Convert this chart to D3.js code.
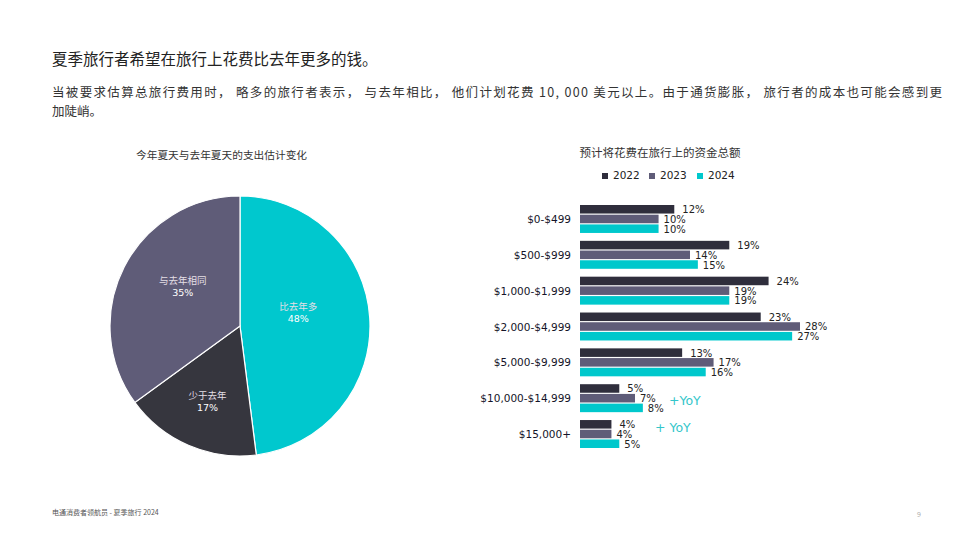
<!DOCTYPE html>
<html><head><meta charset="utf-8">
<script src="https://cdn.jsdelivr.net/npm/d3@7"></script>
<style>
body{margin:0;background:#fff;}
text{font-family:"Noto Sans CJK SC","Noto Sans",sans-serif;}
.num{font-family:"DejaVu Sans",Verdana,sans-serif;}
</style></head>
<body><svg id="c" width="960" height="540"></svg>
<script>
const pieLabels = ["比去年多","少于去年","与去年相同"];
const pieValues = [48,17,35];
const pieColors = ["#00C8CE","#36363E","#5F5C78"];

const categories = ["$0-$499","$500-$999","$1,000-$1,999","$2,000-$4,999","$5,000-$9,999","$10,000-$14,999","$15,000+"];
const years = ["2022","2023","2024"];
const v2022 = [12,19,24,23,13,5,4];
const v2023 = [10,14,19,28,17,7,4];
const v2024 = [10,15,19,27,16,8,5];
const barColors = ["#2F2E3C","#5F5C78","#00C8CC"];

const svg = d3.select("#c");

// Titles
svg.append("text").attr("x",52).attr("y",65).attr("font-size",15.5).attr("fill","#222")
  .text("夏季旅行者希望在旅行上花费比去年更多的钱。");
svg.append("text").attr("x",52).attr("y",97).attr("font-size",12.5).attr("fill","#333")
  .attr("textLength",890).attr("lengthAdjust","spacing")
  .text("当被要求估算总旅行费用时， 略多的旅行者表示， 与去年相比， 他们计划花费 10, 000 美元以上。由于通货膨胀， 旅行者的成本也可能会感到更");
svg.append("text").attr("x",52).attr("y",116).attr("font-size",12.5).attr("fill","#333").text("加陡峭。");

// Pie
const cx=240, cy=326, R=130;
svg.append("text").attr("x",136).attr("y",159).attr("font-size",10.7).attr("fill","#333")
  .text("今年夏天与去年夏天的支出估计变化");
const pie = d3.pie().sort(null).value(d=>d)(pieValues);
const arc = d3.arc().innerRadius(0).outerRadius(R);
const pg = svg.append("g").attr("transform",`translate(${cx},${cy})`);
pg.selectAll("path").data(pie).join("path").attr("d",arc)
  .attr("fill",(d,i)=>pieColors[i]).attr("stroke","#fff").attr("stroke-width",1.2);
const labR=[60,82,70], labShift=[-0.18,0,0.14];
pie.forEach((d,i)=>{
  const a=(d.startAngle+d.endAngle)/2+labShift[i];
  const x=labR[i]*Math.sin(a), y=-labR[i]*Math.cos(a);
  const t=pg.append("text").attr("text-anchor","middle").attr("font-size",9.5).attr("fill","#e4dfe6");
  t.append("tspan").attr("x",x).attr("y",y-2).text(pieLabels[i]);
  t.append("tspan").attr("x",x).attr("y",y+10).attr("class","num").attr("fill","#fff").text(pieValues[i]+"%");
});

// Bar chart
svg.append("text").attr("x",660).attr("y",157).attr("text-anchor","middle").attr("font-size",11.5).attr("fill","#333")
  .text("预计将花费在旅行上的资金总额");
// legend
const lg = svg.append("g");
years.forEach((y,i)=>{
  const lx=[602,649,697][i];
  lg.append("rect").attr("x",lx).attr("y",173).attr("width",6).attr("height",6).attr("fill",barColors[i]);
  lg.append("text").attr("class","num").attr("x",lx+11).attr("y",179).attr("font-size",10.5).attr("fill","#222").text(y);
});
const x = d3.scaleLinear().domain([0,28]).range([580,800]);
const yb = d3.scaleBand().domain(categories).range([205,448]).paddingInner(0.22).paddingOuter(0);
const ys = d3.scaleBand().domain(years).range([0,yb.bandwidth()]).paddingInner(0.12);
const series=[v2022,v2023,v2024];
const bg = svg.append("g");
categories.forEach((c,ci)=>{
  const g=bg.append("g").attr("transform",`translate(0,${yb(c)})`);
  years.forEach((yr,si)=>{
    const v=series[si][ci];
    g.append("rect").attr("x",x(0)).attr("y",ys(yr)).attr("width",x(v)-x(0)).attr("height",ys.bandwidth()).attr("fill",barColors[si]);
    g.append("text").attr("class","num").attr("x",x(v)+(si===0?8:5)).attr("y",ys(yr)+ys.bandwidth()/2+4)
      .attr("font-size",10).attr("fill","#222").text(v+"%");
  });
  svg.append("text").attr("class","num").attr("x",571).attr("y",yb(c)+yb.bandwidth()/2+4)
    .attr("text-anchor","end").attr("font-size",10.5).attr("fill","#141428").text(c);
});
// YoY annotations
svg.append("text").attr("class","num").attr("x",669).attr("y",405).attr("font-size",12.5).attr("fill","#33C6CA").text("+YoY");
svg.append("text").attr("class","num").attr("x",655).attr("y",432).attr("font-size",12.5).attr("fill","#33C6CA").text("+ YoY");

// footer
svg.append("text").attr("x",52).attr("y",515).attr("font-size",7).attr("fill","#555").text("电通消费者领航员 - 夏季旅行 2024");
svg.append("text").attr("x",917).attr("y",517).attr("font-size",7).attr("fill","#aaa").text("9");
</script></body></html>
